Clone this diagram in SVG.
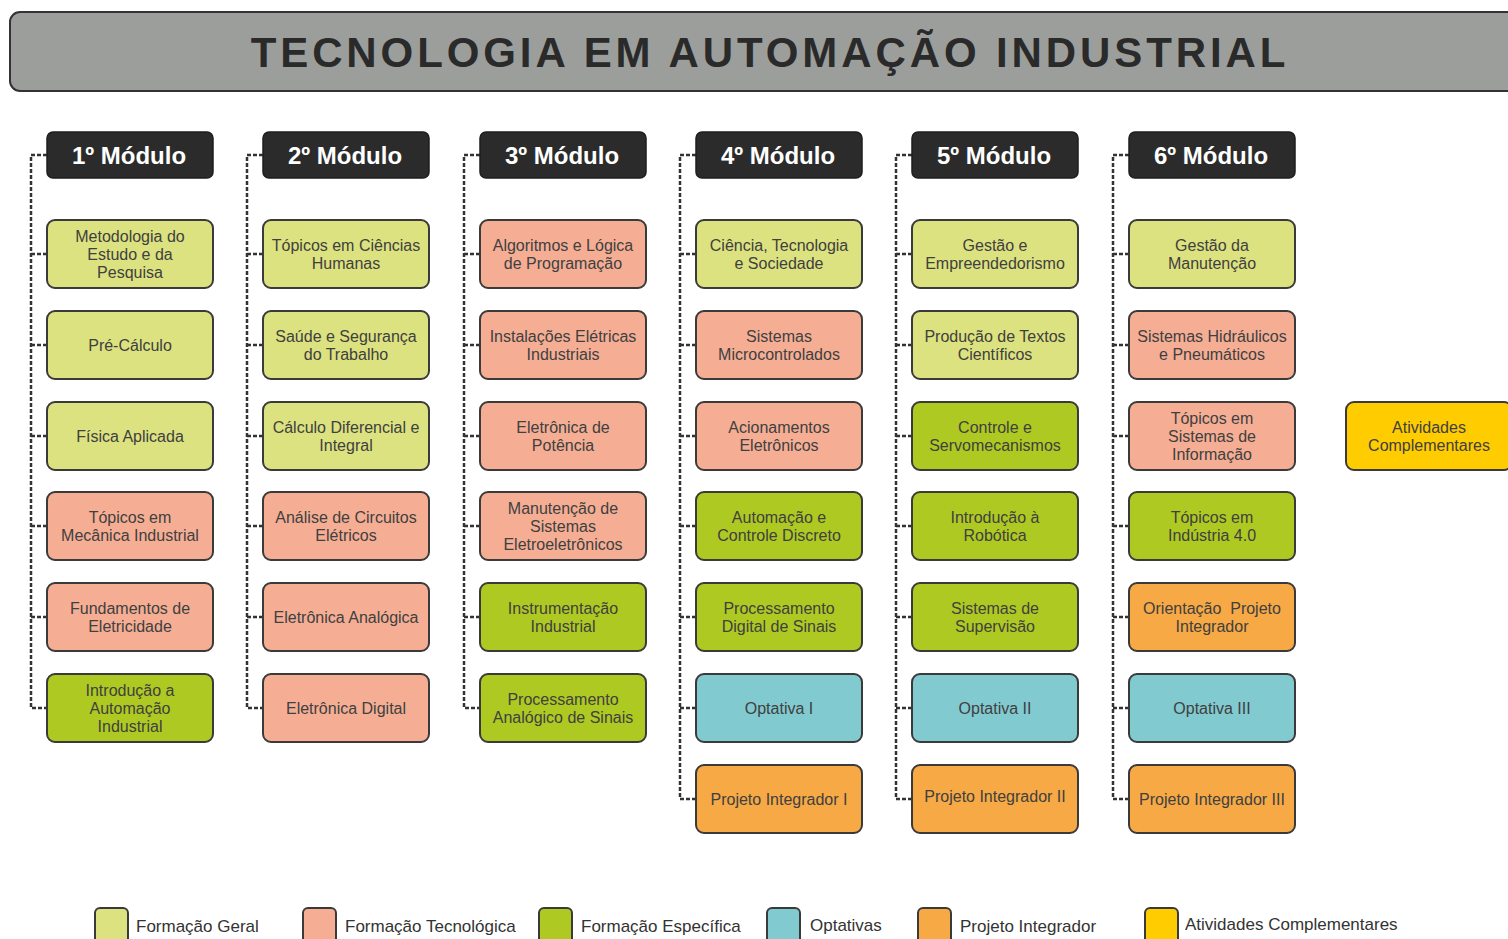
<svg xmlns="http://www.w3.org/2000/svg" width="1508" height="939" viewBox="0 0 1508 939">
<style>
.t{font-family:"Liberation Sans",Arial,sans-serif;font-size:16px;fill:#404040;text-anchor:middle}
.h{font-family:"Liberation Sans",Arial,sans-serif;font-size:24px;font-weight:bold;fill:#ffffff;text-anchor:middle}
.lg{font-family:"Liberation Sans",Arial,sans-serif;font-size:17px;fill:#333333}
.b{stroke:#3a3a3a;stroke-width:2}
.hd{fill:#2b2b2b;stroke:#1e1e1e;stroke-width:1.5}
.G{fill:#dce27f}.T{fill:#f5ae94}.E{fill:#aec922}.O{fill:#80cad0}.P{fill:#f6a945}.A{fill:#ffcc00}
.c{fill:none;stroke:#333333;stroke-width:2.5;stroke-dasharray:4 2}
</style>
<defs>
<rect id="box" width="166" height="68" rx="8"/>
</defs>

<g id="title">
<rect x="10" y="12" width="1510" height="79" rx="10" fill="#9c9e9c" stroke="#333333" stroke-width="2"/>
<text x="770" y="67" font-family="'Liberation Sans',Arial,sans-serif" font-size="42" font-weight="bold" fill="#2a2a2a" text-anchor="middle" letter-spacing="3.9">TECNOLOGIA EM AUTOMAÇÃO INDUSTRIAL</text>
</g>

<g id="connectors">
<path class="c" d="M47 155H31V708H47M31 254H47M31 345H47M31 436H47M31 526H47M31 617H47"/>
<path class="c" d="M263 155H247V708H263M247 254H263M247 345H263M247 436H263M247 526H263M247 617H263"/>
<path class="c" d="M480 155H464V708H480M464 254H480M464 345H480M464 436H480M464 526H480M464 617H480"/>
<path class="c" d="M696 155H680V799H696M680 254H696M680 345H696M680 436H696M680 526H696M680 617H696M680 708H696"/>
<path class="c" d="M912 155H896V799H912M896 254H912M896 345H912M896 436H912M896 526H912M896 617H912M896 708H912"/>
<path class="c" d="M1129 155H1113V799H1129M1113 254H1129M1113 345H1129M1113 436H1129M1113 526H1129M1113 617H1129M1113 708H1129"/>
</g>

<g id="mod1"><rect class="hd" x="47" y="132" width="166" height="46" rx="6"/><text class="h" x="129" y="164">1º Módulo</text></g>
<g id="mod2"><rect class="hd" x="263" y="132" width="166" height="46" rx="6"/><text class="h" x="345" y="164">2º Módulo</text></g>
<g id="mod3"><rect class="hd" x="480" y="132" width="166" height="46" rx="6"/><text class="h" x="562" y="164">3º Módulo</text></g>
<g id="mod4"><rect class="hd" x="696" y="132" width="166" height="46" rx="6"/><text class="h" x="778" y="164">4º Módulo</text></g>
<g id="mod5"><rect class="hd" x="912" y="132" width="166" height="46" rx="6"/><text class="h" x="994" y="164">5º Módulo</text></g>
<g id="mod6"><rect class="hd" x="1129" y="132" width="166" height="46" rx="6"/><text class="h" x="1211" y="164">6º Módulo</text></g>

<!-- Column 1 -->
<g id="n1_1"><use href="#box" x="47" y="220" class="b G"/><text class="t" x="130" y="241.5"><tspan x="130">Metodologia do</tspan><tspan x="130" dy="18">Estudo e da</tspan><tspan x="130" dy="18">Pesquisa</tspan></text></g>
<g id="n1_2"><use href="#box" x="47" y="311" class="b G"/><text class="t" x="130" y="350.5">Pré-Cálculo</text></g>
<g id="n1_3"><use href="#box" x="47" y="402" class="b G"/><text class="t" x="130" y="441.5">Física Aplicada</text></g>
<g id="n1_4"><use href="#box" x="47" y="492" class="b T"/><text class="t" x="130" y="522.5"><tspan x="130">Tópicos em</tspan><tspan x="130" dy="18">Mecânica Industrial</tspan></text></g>
<g id="n1_5"><use href="#box" x="47" y="583" class="b T"/><text class="t" x="130" y="613.5"><tspan x="130">Fundamentos de</tspan><tspan x="130" dy="18">Eletricidade</tspan></text></g>
<g id="n1_6"><use href="#box" x="47" y="674" class="b E"/><text class="t" x="130" y="695.5"><tspan x="130">Introdução a</tspan><tspan x="130" dy="18">Automação</tspan><tspan x="130" dy="18">Industrial</tspan></text></g>

<!-- Column 2 -->
<g id="n2_1"><use href="#box" x="263" y="220" class="b G"/><text class="t" x="346" y="250.5"><tspan x="346">Tópicos em Ciências</tspan><tspan x="346" dy="18">Humanas</tspan></text></g>
<g id="n2_2"><use href="#box" x="263" y="311" class="b G"/><text class="t" x="346" y="341.5"><tspan x="346">Saúde e Segurança</tspan><tspan x="346" dy="18">do Trabalho</tspan></text></g>
<g id="n2_3"><use href="#box" x="263" y="402" class="b G"/><text class="t" x="346" y="432.5"><tspan x="346">Cálculo Diferencial e</tspan><tspan x="346" dy="18">Integral</tspan></text></g>
<g id="n2_4"><use href="#box" x="263" y="492" class="b T"/><text class="t" x="346" y="522.5"><tspan x="346">Análise de Circuitos</tspan><tspan x="346" dy="18">Elétricos</tspan></text></g>
<g id="n2_5"><use href="#box" x="263" y="583" class="b T"/><text class="t" x="346" y="622.5">Eletrônica Analógica</text></g>
<g id="n2_6"><use href="#box" x="263" y="674" class="b T"/><text class="t" x="346" y="713.5">Eletrônica Digital</text></g>

<!-- Column 3 -->
<g id="n3_1"><use href="#box" x="480" y="220" class="b T"/><text class="t" x="563" y="250.5"><tspan x="563">Algoritmos e Lógica</tspan><tspan x="563" dy="18">de Programação</tspan></text></g>
<g id="n3_2"><use href="#box" x="480" y="311" class="b T"/><text class="t" x="563" y="341.5"><tspan x="563">Instalações Elétricas</tspan><tspan x="563" dy="18">Industriais</tspan></text></g>
<g id="n3_3"><use href="#box" x="480" y="402" class="b T"/><text class="t" x="563" y="432.5"><tspan x="563">Eletrônica de</tspan><tspan x="563" dy="18">Potência</tspan></text></g>
<g id="n3_4"><use href="#box" x="480" y="492" class="b T"/><text class="t" x="563" y="513.5"><tspan x="563">Manutenção de</tspan><tspan x="563" dy="18">Sistemas</tspan><tspan x="563" dy="18">Eletroeletrônicos</tspan></text></g>
<g id="n3_5"><use href="#box" x="480" y="583" class="b E"/><text class="t" x="563" y="613.5"><tspan x="563">Instrumentação</tspan><tspan x="563" dy="18">Industrial</tspan></text></g>
<g id="n3_6"><use href="#box" x="480" y="674" class="b E"/><text class="t" x="563" y="704.5"><tspan x="563">Processamento</tspan><tspan x="563" dy="18">Analógico de Sinais</tspan></text></g>

<!-- Column 4 -->
<g id="n4_1"><use href="#box" x="696" y="220" class="b G"/><text class="t" x="779" y="250.5"><tspan x="779">Ciência, Tecnologia</tspan><tspan x="779" dy="18">e Sociedade</tspan></text></g>
<g id="n4_2"><use href="#box" x="696" y="311" class="b T"/><text class="t" x="779" y="341.5"><tspan x="779">Sistemas</tspan><tspan x="779" dy="18">Microcontrolados</tspan></text></g>
<g id="n4_3"><use href="#box" x="696" y="402" class="b T"/><text class="t" x="779" y="432.5"><tspan x="779">Acionamentos</tspan><tspan x="779" dy="18">Eletrônicos</tspan></text></g>
<g id="n4_4"><use href="#box" x="696" y="492" class="b E"/><text class="t" x="779" y="522.5"><tspan x="779">Automação e</tspan><tspan x="779" dy="18">Controle Discreto</tspan></text></g>
<g id="n4_5"><use href="#box" x="696" y="583" class="b E"/><text class="t" x="779" y="613.5"><tspan x="779">Processamento</tspan><tspan x="779" dy="18">Digital de Sinais</tspan></text></g>
<g id="n4_6"><use href="#box" x="696" y="674" class="b O"/><text class="t" x="779" y="713.5">Optativa I</text></g>
<g id="n4_7"><use href="#box" x="696" y="765" class="b P"/><text class="t" x="779" y="804.5">Projeto Integrador I</text></g>

<!-- Column 5 -->
<g id="n5_1"><use href="#box" x="912" y="220" class="b G"/><text class="t" x="995" y="250.5"><tspan x="995">Gestão e</tspan><tspan x="995" dy="18">Empreendedorismo</tspan></text></g>
<g id="n5_2"><use href="#box" x="912" y="311" class="b G"/><text class="t" x="995" y="341.5"><tspan x="995">Produção de Textos</tspan><tspan x="995" dy="18">Científicos</tspan></text></g>
<g id="n5_3"><use href="#box" x="912" y="402" class="b E"/><text class="t" x="995" y="432.5"><tspan x="995">Controle e</tspan><tspan x="995" dy="18">Servomecanismos</tspan></text></g>
<g id="n5_4"><use href="#box" x="912" y="492" class="b E"/><text class="t" x="995" y="522.5"><tspan x="995">Introdução à</tspan><tspan x="995" dy="18">Robótica</tspan></text></g>
<g id="n5_5"><use href="#box" x="912" y="583" class="b E"/><text class="t" x="995" y="613.5"><tspan x="995">Sistemas de</tspan><tspan x="995" dy="18">Supervisão</tspan></text></g>
<g id="n5_6"><use href="#box" x="912" y="674" class="b O"/><text class="t" x="995" y="713.5">Optativa II</text></g>
<g id="n5_7"><use href="#box" x="912" y="765" class="b P"/><text class="t" x="995" y="801.5">Projeto Integrador II</text></g>

<!-- Column 6 -->
<g id="n6_1"><use href="#box" x="1129" y="220" class="b G"/><text class="t" x="1212" y="250.5"><tspan x="1212">Gestão da</tspan><tspan x="1212" dy="18">Manutenção</tspan></text></g>
<g id="n6_2"><use href="#box" x="1129" y="311" class="b T"/><text class="t" x="1212" y="341.5"><tspan x="1212">Sistemas Hidráulicos</tspan><tspan x="1212" dy="18">e Pneumáticos</tspan></text></g>
<g id="n6_3"><use href="#box" x="1129" y="402" class="b T"/><text class="t" x="1212" y="423.5"><tspan x="1212">Tópicos em</tspan><tspan x="1212" dy="18">Sistemas de</tspan><tspan x="1212" dy="18">Informação</tspan></text></g>
<g id="n6_4"><use href="#box" x="1129" y="492" class="b E"/><text class="t" x="1212" y="522.5"><tspan x="1212">Tópicos em</tspan><tspan x="1212" dy="18">Indústria 4.0</tspan></text></g>
<g id="n6_5"><use href="#box" x="1129" y="583" class="b P"/><text class="t" x="1212" y="613.5" style="white-space:pre"><tspan x="1212">Orientação  Projeto</tspan><tspan x="1212" dy="18">Integrador</tspan></text></g>
<g id="n6_6"><use href="#box" x="1129" y="674" class="b O"/><text class="t" x="1212" y="713.5">Optativa III</text></g>
<g id="n6_7"><use href="#box" x="1129" y="765" class="b P"/><text class="t" x="1212" y="804.5">Projeto Integrador III</text></g>

<g id="n7_1"><use href="#box" x="1346" y="402" class="b A"/><text class="t" x="1429" y="432.5"><tspan x="1429">Atividades</tspan><tspan x="1429" dy="18">Complementares</tspan></text></g>

<g id="legend">
<rect x="95" y="908" width="33" height="40" rx="5" class="b G"/><text class="lg" x="136" y="932">Formação Geral</text>
<rect x="303" y="908" width="33" height="40" rx="5" class="b T"/><text class="lg" x="345" y="932">Formação Tecnológica</text>
<rect x="539" y="908" width="33" height="40" rx="5" class="b E"/><text class="lg" x="581" y="932">Formação Específica</text>
<rect x="767" y="908" width="33" height="40" rx="5" class="b O"/><text class="lg" x="810" y="931">Optativas</text>
<rect x="918" y="908" width="33" height="40" rx="5" class="b P"/><text class="lg" x="960" y="932">Projeto Integrador</text>
<rect x="1145" y="908" width="33" height="40" rx="5" class="b A"/><text class="lg" x="1185" y="930">Atividades Complementares</text>
</g>
</svg>
